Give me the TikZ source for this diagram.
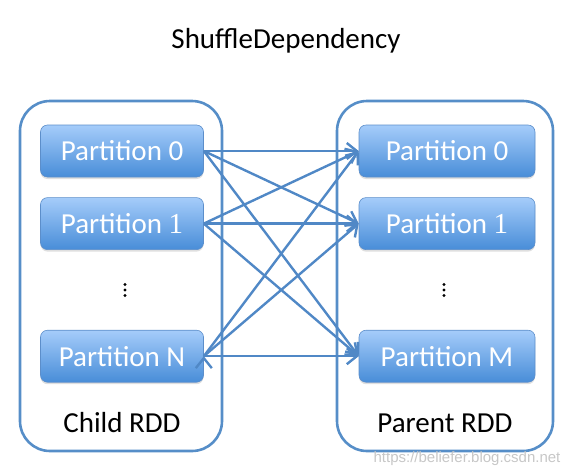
\documentclass[tikz,border=0pt]{standalone}
\usepackage{fontspec}
\setmainfont{Carlito}
\newfontfamily\digitfont{Liberation Serif}
\newfontfamily\markfont{Liberation Sans}
\usepackage{tikz}
\usetikzlibrary{arrows.meta,positioning,shadows}
\definecolor{rddBorder}{RGB}{86,142,200}
\definecolor{linkBlue}{RGB}{80,136,198}
\definecolor{partTop}{RGB}{165,204,250}
\definecolor{partBot}{RGB}{72,141,216}
\definecolor{partLine}{RGB}{92,142,202}
\tikzset{
    %Define standard arrow tip
    >={Straight Barb[length=10pt,width=16pt]},
    %Define style for the partitions
    partition/.style={
           rectangle,
           rounded corners=7pt,
           draw=partLine, line width=0.6pt,
           top color=partTop, bottom color=partBot,
           minimum height=52pt,
           text=white,
           font=\fontsize{29}{34}\selectfont,
           text centered,
           drop shadow={shadow xshift=0pt, shadow yshift=-2pt, opacity=.25}},
    %Define style for the RDD boxes
    rdd/.style={
           rectangle,
           rounded corners=30pt,
           draw=rddBorder, line width=2.6pt,
           minimum width=#1,
           minimum height=350pt},
    caption/.style={
           font=\fontsize{29}{34}\selectfont,
           anchor=base},
    dot/.style={
           fill=black},
    % Define arrow style
    link/.style={
           ->,
           draw=linkBlue,
           line width=2.4pt}
}
\begin{document}
\begin{tikzpicture}[x=1pt,y=-1pt,node distance=20pt]
\useasboundingbox (0,0) rectangle (575,472);
 %title
\node[caption] (title) at (286,48) {ShuffleDependency};
 %RDD boxes
\node[rdd=202pt] (child) at (121,276) {};
\node[rdd=216pt] (parent) at (445,276) {};
\node[caption] (childlbl) at (122,432) {Child RDD};
\node[caption] (parentlbl) at (445,432) {Parent RDD};
 %partitions
\node[partition, minimum width=163pt] (c0) at (122,151) {Partition 0};
\node[partition, minimum width=163pt, below=of c0] (c1) {Partition {\digitfont 1}};
\node[partition, minimum width=163pt, below=80pt of c1] (cN) {Partition N};
\node[partition, minimum width=176pt] (p0) at (447,151) {Partition 0};
\node[partition, minimum width=176pt, below=of p0] (p1) {Partition {\digitfont 1}};
\node[partition, minimum width=176pt, below=80pt of p1] (pM) {Partition M};
 %vertical dots
\coordinate (cdots) at (125,290);
\coordinate (pdots) at (444,290);
\foreach \d in {-5.5,0,5.5}{
    \fill[dot] (cdots) ++(0,\d) circle (1.7pt);
    \fill[dot] (pdots) ++(0,\d) circle (1.7pt);
}
 %shuffle links
 \path[link]
    (c0.east) edge (p0.west) edge (p1.west) edge (pM.west)
    (c1.east) edge (p0.west) edge (p1.west) edge (pM.west)
    (cN.east) edge (p0.west) edge (p1.west) edge (pM.west);
\node[font=\markfont\fontsize{15}{17}\selectfont, text=black!22, anchor=base] (mark) at (467,462) {https://beliefer.blog.csdn.net};
\end{tikzpicture}
\end{document}
